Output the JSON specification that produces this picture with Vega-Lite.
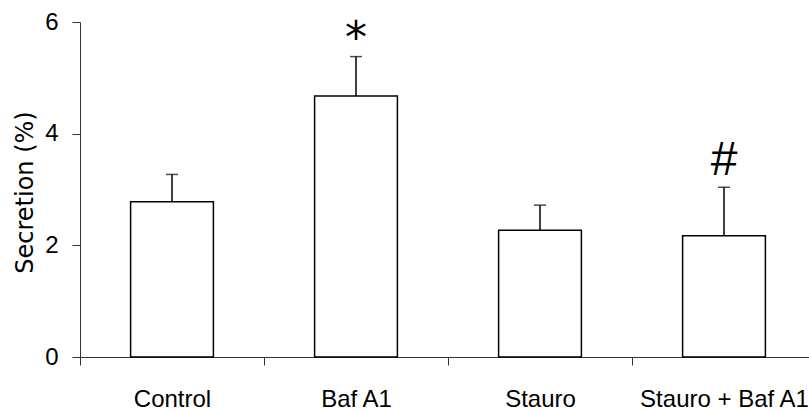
{
  "$schema": "https://vega.github.io/schema/vega-lite/v6.json",
  "autosize": {"type": "none"},
  "width": 729,
  "height": 335,
  "padding": {"left": 80, "top": 22, "right": 0, "bottom": 54},
  "background": "white",
  "config": {"view": {"stroke": null}},
  "data": {
    "values": [
      {"group": "Control", "mean": 2.78, "upper": 3.27, "sig": ""},
      {"group": "Baf A1", "mean": 4.675, "upper": 5.38, "sig": "*"},
      {"group": "Stauro", "mean": 2.27, "upper": 2.72, "sig": ""},
      {"group": "Stauro + Baf A1", "mean": 2.17, "upper": 3.04, "sig": "#"}
    ]
  },
  "encoding": {
    "x": {
      "field": "group",
      "type": "nominal",
      "sort": null,
      "scale": {"range": [0, 736], "paddingInner": 0, "paddingOuter": 0},
      "axis": {
        "title": null,
        "labelAngle": 0,
        "labelLimit": 0,
        "tickBand": "extent",
        "tickSize": 8,
        "tickColor": "#333",
        "domainColor": "#333",
        "labelFont": "Liberation Sans",
        "labelFontSize": 24,
        "labelColor": "black",
        "labelBaseline": "alphabetic",
        "labelPadding": 41
      }
    }
  },
  "layer": [
    {
      "mark": {"type": "bar", "fill": "white", "stroke": "black", "strokeWidth": 1.5, "width": {"band": 0.45}},
      "encoding": {
        "y": {
          "field": "mean",
          "type": "quantitative",
          "scale": {"domain": [0, 6], "nice": false},
          "axis": {
            "values": [0, 2, 4, 6],
            "format": "d",
            "grid": false,
            "tickSize": 8,
            "tickColor": "#333",
            "domainColor": "#333",
            "labelFont": "Liberation Sans",
            "labelFontSize": 24,
            "labelColor": "black",
            "labelPadding": 14,
            "title": "Secretion (%)",
            "titleFont": "DejaVu Sans",
            "titleFontSize": 24,
            "titleFontWeight": "normal",
            "titleColor": "black",
            "titleAngle": -90,
            "titleAlign": "center",
            "titleBaseline": "alphabetic",
            "titleX": -48,
            "titleY": 170
          }
        }
      }
    },
    {
      "mark": {"type": "rule", "stroke": "black", "strokeWidth": 1.5},
      "encoding": {
        "y": {"field": "mean", "type": "quantitative"},
        "y2": {"field": "upper"}
      }
    },
    {
      "mark": {"type": "tick", "color": "black", "thickness": 1.5, "size": 12},
      "encoding": {
        "y": {"field": "upper", "type": "quantitative"}
      }
    },
    {
      "transform": [{"filter": "datum.sig == '*'"}],
      "mark": {"type": "text", "font": "DejaVu Sans", "fontSize": 44, "baseline": "alphabetic", "dy": -4, "color": "black"},
      "encoding": {
        "y": {"field": "upper", "type": "quantitative"},
        "text": {"field": "sig"}
      }
    },
    {
      "transform": [{"filter": "datum.sig == '#'"}],
      "mark": {"type": "text", "font": "Liberation Sans", "fontSize": 48, "baseline": "alphabetic", "dy": -12, "color": "black"},
      "encoding": {
        "y": {"field": "upper", "type": "quantitative"},
        "text": {"field": "sig"}
      }
    }
  ]
}
